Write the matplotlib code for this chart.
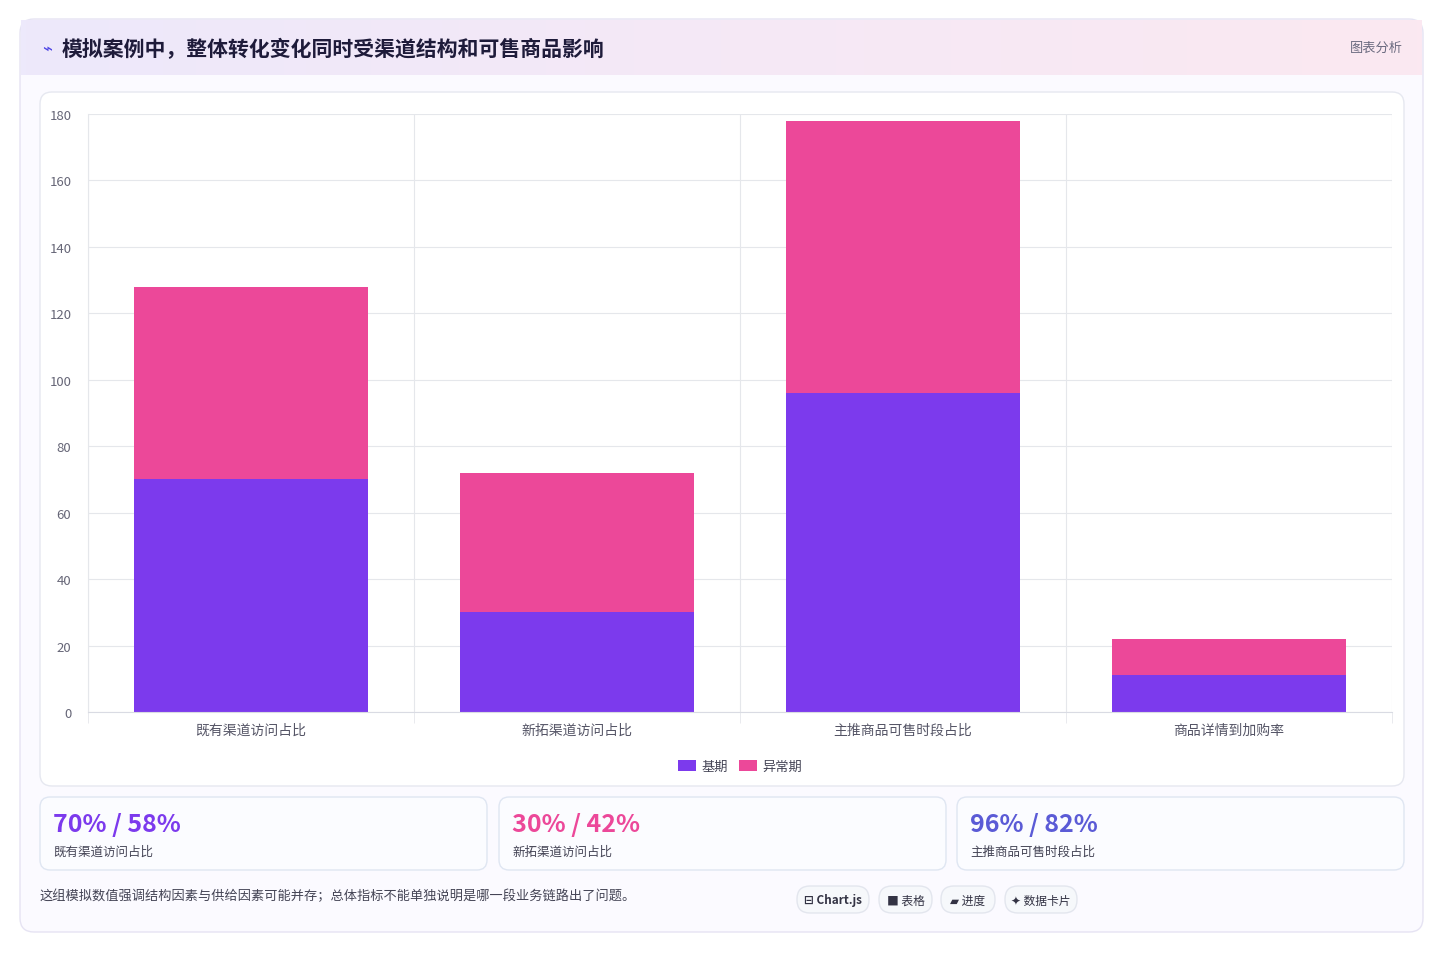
import matplotlib
matplotlib.use("Agg")
import matplotlib.pyplot as plt
from matplotlib.patches import FancyBboxPatch, Rectangle
import numpy as np

plt.rcParams['font.family'] = ['Noto Sans CJK SC', 'DejaVu Sans']

categories = ["既有渠道访问占比", "新拓渠道访问占比", "主推商品可售时段占比", "商品详情到加购率"]
base = [70, 30, 96, 11]
abnormal = [58, 42, 82, 11]
series_names = ["基期", "异常期"]
cards = [("70% / 58%", "既有渠道访问占比", "#7c3aed"),
         ("30% / 42%", "新拓渠道访问占比", "#ec4899"),
         ("96% / 82%", "主推商品可售时段占比", "#5b5bd6")]
pills = ["⊟ Chart.js", "■ 表格", "▰ 进度", "✦ 数据卡片"]
title = "模拟案例中，整体转化变化同时受渠道结构和可售商品影响"
note = "这组模拟数值强调结构因素与供给因素可能并存；总体指标不能单独说明是哪一段业务链路出了问题。"

W, H = 1444, 954
fig = plt.figure(figsize=(W / 100, H / 100), dpi=100)
fig.patch.set_facecolor("white")


def box(x, y, w, h, fc, ec, r=10, lw=1, z=0):
    p = FancyBboxPatch((x / W, 1 - (y + h) / H), w / W, h / H,
                       boxstyle=f"round,pad=0,rounding_size={r / W}",
                       transform=fig.transFigure, fc=fc, ec=ec, lw=lw, zorder=z,
                       mutation_aspect=W / H)
    fig.add_artist(p)


def txt(x, y, s, **kw):
    fig.text(x / W, 1 - y / H, s, **kw)


# outer card
box(20, 20, 1403, 913, "#fbfaff", "#e6e3f3", r=14)
# header gradient
grad = np.linspace(0, 1, 256).reshape(1, -1)
hax = fig.add_axes([21 / W, 1 - 76 / H, 1401 / W, 55 / H])
hax.imshow(grad, aspect="auto", cmap=matplotlib.colors.LinearSegmentedColormap.from_list(
    "h", ["#ede9fb", "#f5e8f6", "#fbe8f1"]))
hax.axis("off")
txt(42, 49, "⌁", fontsize=12, color="#4f46e5", va="center")
txt(62, 49, title, fontsize=15, fontweight="bold", color="#1e1b3a", va="center")
txt(1403, 48, "图表分析", fontsize=9.5, color="#6b6b80", va="center", ha="right")

# chart panel
box(40, 93, 1364, 694, "white", "#e6e8f0", r=12)

ax = fig.add_axes([88 / W, 1 - 713 / H, (1392 - 88) / W, (713 - 115) / H])
x = np.arange(len(categories))
ax.bar(x, base, width=0.72, color="#7c3aed", label=series_names[0], zorder=2)
ax.bar(x, abnormal, bottom=base, width=0.72, color="#ec4899", label=series_names[1], zorder=2)
ax.set_xlim(-0.5, len(categories) - 0.5)
ax.set_ylim(0, 180)
ax.set_yticks(range(0, 181, 20))
ax.set_xticks(x)
ax.set_xticklabels(categories, fontsize=10, color="#555566")
ax.set_xticks(np.arange(-0.5, len(categories)), minor=True)
ax.grid(axis="y", color="#e5e7eb", lw=0.8, zorder=0)
ax.grid(axis="x", which="minor", color="#e5e7eb", lw=0.8, zorder=0)
ax.tick_params(axis="x", which="major", length=0, pad=8)
ax.tick_params(axis="x", which="minor", length=8, color="#e5e7eb")
ax.tick_params(axis="y", length=0, labelsize=9.5, labelcolor="#666677", pad=12)
for s in ax.spines.values():
    s.set_visible(False)
ax.spines["left"].set_visible(True)
ax.spines["left"].set_color("#e5e7eb")
ax.spines["bottom"].set_visible(True)
ax.spines["bottom"].set_color("#d9dbe3")
ax.patch.set_alpha(0)
ax.legend(loc="upper center", bbox_to_anchor=(0.5, -0.06), ncol=2, frameon=False,
          fontsize=9.5, handlelength=1.4, handleheight=0.9, columnspacing=0.8,
          handletextpad=0.4, labelcolor="#444455")

# metric cards
cx = [40, 499, 957]
for (big, small, col), x0 in zip(cards, cx):
    box(x0, 798, 447, 73, "#fbfcff", "#dfe6f2", r=10)
    txt(x0 + 13, 825, big, fontsize=18, fontweight="bold", color=col, va="center")
    txt(x0 + 13, 852, small, fontsize=9, color="#444455", va="center")

txt(40, 896, note, fontsize=9.5, color="#444455", va="center")

px = [797, 879, 941, 1005]
pw = [72, 53, 54, 72]
for s, x0, w in zip(pills, px, pw):
    box(x0, 887, w, 27, "#f6f8fb", "#e3e6ee", r=13)
    txt(x0 + w / 2, 901, s, fontsize=8.5, color="#333344", va="center", ha="center",
        fontweight="bold" if "Chart" in s else "normal")

fig.savefig("out.png", dpi=100)
